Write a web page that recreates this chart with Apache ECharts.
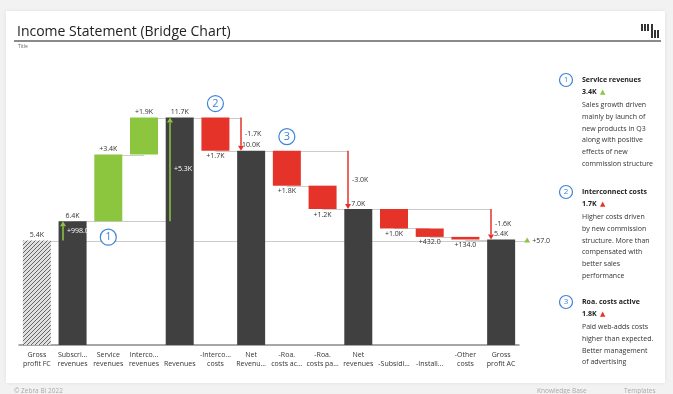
<!DOCTYPE html>
<html>
<head>
<meta charset="utf-8">
<script src="https://cdn.jsdelivr.net/npm/echarts@6/dist/echarts.min.js"></script>
<style>
  html, body { margin: 0; padding: 0; background: #f2f2f2; }
  #chart { width: 673px; height: 394px; }
</style>
</head>
<body>
<div id="chart"></div>
<script>
// ---- Income statement bridge data ----
const categories = [
  'Gross\nprofit FC', 'Subscri…\nrevenues', 'Service\nrevenues', 'Interco…\nrevenues',
  'Revenues', '-Interco…\ncosts', 'Net\nRevenu…', '-Roa.\ncosts ac…', '-Roa.\ncosts pa…',
  'Net\nrevenues', '-Subsidi…', '-Install…', '-Other\ncosts', 'Gross\nprofit AC'
];
// plan = forecast reference, total = subtotal column, add = increase, sub = cost
const kinds = ['plan', 'total', 'add', 'add', 'total', 'sub', 'total', 'sub', 'sub', 'total', 'sub', 'sub', 'sub', 'total'];
const amounts = [5362, 6360, 3425, 1900, 11685, 1700, 9985, 1800, 1200, 6985, 1000, 432, 134, 5419];

// numbered call-outs on the bridge
const noteCategories = [2, 5, 7];
const noteLabels = ['1', '2', '3'];

// commentary panel
const commentTitles = ['Service revenues', 'Interconnect costs', 'Roa. costs active'];
const commentValues = ['3.4K', '1.7K', '1.8K'];
const commentGood = [true, false, false];
const commentLines = [
  ['Sales growth driven', 'mainly by launch of', 'new products in Q3', 'along with positive', 'effects of new', 'commission structure'],
  ['Higher costs driven', 'by new commission', 'structure. More than', 'compensated with', 'better sales', 'performance'],
  ['Paid web-adds costs', 'higher than expected.', 'Better management', 'of advertising']
];

// ---- styling ----
const FONT = '"Open Sans", "Noto Sans", sans-serif';
const GREEN = '#8cc63f';
const RED = '#e5332a';
const DARK = '#404040';
const LINE = '#cccccc';
const NOTE = '#3f83d8';

function fmt(v) {
  const a = Math.abs(v);
  return a >= 1000 ? (a / 1000).toFixed(1) + 'K' : a.toFixed(1);
}
function signed(v) { return (v >= 0 ? '+' : '-') + fmt(v); }

// hatch fill for the forecast column
const hatch = document.createElement('canvas');
hatch.width = 4; hatch.height = 4;
(function () {
  const c = hatch.getContext('2d');
  c.fillStyle = '#e0e0e0'; c.fillRect(0, 0, 4, 4);
  c.strokeStyle = '#666'; c.lineWidth = 1;
  c.beginPath();
  c.moveTo(0, 4); c.lineTo(4, 0);
  c.moveTo(-1, 1); c.lineTo(1, -1);
  c.moveTo(3, 5); c.lineTo(5, 3);
  c.stroke();
})();

// ---- waterfall geometry in value space ----
const n = categories.length;
const baseVals = [], sizeVals = [], startLv = [], endLv = [];
let level = 0;
for (let i = 0; i < n; i++) {
  const k = kinds[i], v = amounts[i];
  startLv[i] = level;
  if (k === 'plan' || k === 'total') { baseVals[i] = 0; sizeVals[i] = v; level = v; }
  else if (k === 'add') { baseVals[i] = level; sizeVals[i] = v; level += v; }
  else { baseVals[i] = level - v; sizeVals[i] = v; level -= v; }
  endLv[i] = level;
}

const barData = sizeVals.map((v, i) => {
  const k = kinds[i];
  let color = DARK;
  if (k === 'plan') color = { image: hatch, repeat: 'repeat' };
  else if (k === 'add') color = GREEN;
  else if (k === 'sub') color = RED;
  return {
    value: v,
    itemStyle: { color },
    label: {
      position: k === 'sub' ? 'bottom' : 'top',
      formatter: (k === 'add' || k === 'sub') ? '+' + fmt(v) : fmt(v)
    }
  };
});

// connector lines: [fromCat, fromPx, toCat, toPx, level]
const connectors = [];
for (let i = 0; i < n - 1; i++) connectors.push([i, 0, i + 1, 0, endLv[i]]);
// reference arrows from previous subtotal to each subtotal
const arrows = [];
let prev = 0;
for (let i = 1; i < n; i++) {
  if (kinds[i] === 'total') {
    arrows.push([i, amounts[prev], amounts[i]]);
    connectors.push([prev, 0, i, -10, amounts[prev]]);
    prev = i;
  }
}
// forecast level carried across to the actual column
connectors.push([0, -14, n - 1, 24, amounts[0]]);
const planDelta = amounts[n - 1] - amounts[0];

const notes = noteCategories.map((c, j) => [c, startLv[c], kinds[c] === 'add' ? 1 : -1, j]);

// ---- commentary panel graphics ----
const panel = [];
const panelTops = [80, 192, 302];
commentTitles.forEach((t, j) => {
  const y = panelTops[j];
  panel.push({ type: 'circle', shape: { cx: 566, cy: y, r: 6.5 }, style: { fill: '#fff', stroke: NOTE, lineWidth: 1.2 }, z: 10 });
  panel.push({ type: 'text', x: 566, y: y, style: { text: noteLabels[j], fill: NOTE, font: '8px ' + FONT, align: 'center', verticalAlign: 'middle' }, z: 10 });
  panel.push({ type: 'text', x: 582, y: y, style: { text: t, fill: '#222', font: 'bold 7px ' + FONT, verticalAlign: 'middle' }, z: 10 });
  panel.push({
    type: 'text', x: 582, y: y + 12, z: 10,
    style: {
      text: '{v|' + commentValues[j] + '} {t|▲}', verticalAlign: 'middle',
      rich: {
        v: { fill: '#222', font: 'bold 7px ' + FONT },
        t: { fill: commentGood[j] ? GREEN : RED, font: '7px "DejaVu Sans"' }
      }
    }
  });
  commentLines[j].forEach((line, m) => {
    panel.push({ type: 'text', x: 582, y: y + 25 + m * 11.8, style: { text: line, fill: '#333', font: '7px ' + FONT, verticalAlign: 'middle' }, z: 10 });
  });
});

const logo = [
  [641, 24, 2, 7], [644, 24, 2, 7], [647, 24, 2, 7],
  [651, 24, 2, 14], [654, 30, 2, 8], [657, 30, 2, 8]
].map(r => ({ type: 'rect', shape: { x: r[0], y: r[1], width: r[2], height: r[3] }, style: { fill: '#333' }, z: 10 }));

const chart = echarts.init(document.getElementById('chart'));
chart.setOption({
  backgroundColor: '#f2f2f2',
  animation: false,
  textStyle: { fontFamily: FONT },
  graphic: [
    { type: 'rect', shape: { x: 6, y: 11, width: 659, height: 372 }, style: { fill: '#fff', shadowBlur: 4, shadowColor: 'rgba(0,0,0,0.08)' }, z: -10 },
    { type: 'text', x: 17, y: 32, style: { text: 'Income Statement (Bridge Chart)', fill: '#222', font: '14px ' + FONT, verticalAlign: 'middle' }, z: 10 },
    { type: 'rect', shape: { x: 14, y: 40, width: 647, height: 2 }, style: { fill: '#8a8a8a' }, z: 10 },
    { type: 'text', x: 18, y: 47, style: { text: 'Title', fill: '#666', font: '5px ' + FONT, verticalAlign: 'middle' }, z: 10 },
    { type: 'text', x: 14, y: 391, style: { text: '© Zebra BI 2022', fill: '#aaa', font: '6.5px ' + FONT, verticalAlign: 'middle' }, z: 10 },
    { type: 'text', x: 537, y: 391, style: { text: 'Knowledge Base', fill: '#aaa', font: '6.5px ' + FONT, verticalAlign: 'middle' }, z: 10 },
    { type: 'text', x: 624, y: 391, style: { text: 'Templates', fill: '#aaa', font: '6.5px ' + FONT, verticalAlign: 'middle' }, z: 10 }
  ].concat(logo, panel),
  grid: { left: 19, width: 500, top: 53, height: 292 },
  xAxis: {
    type: 'category',
    data: categories,
    axisLine: { lineStyle: { color: '#8a8a8a', width: 1.5 } },
    axisTick: { show: false },
    axisLabel: {
      interval: 0, fontSize: 7, lineHeight: 9, color: '#333', margin: 5,
      // single-line names sit on the lower line
      formatter: v => (v.indexOf('\n') < 0 ? '\u00a0\n' + v : v)
    }
  },
  yAxis: { type: 'value', min: 0, max: 15000, show: false, splitLine: { show: false } },
  series: [
    {
      type: 'custom', name: 'connectors', z: 1, silent: true,
      data: connectors,
      renderItem(params, api) {
        const a = api.coord([api.value(0), api.value(4)]);
        const b = api.coord([api.value(2), api.value(4)]);
        const y = Math.round(a[1]) + 0.5;
        return { type: 'line', shape: { x1: a[0] + api.value(1), y1: y, x2: b[0] + api.value(3), y2: y }, style: { stroke: LINE, lineWidth: 1 } };
      }
    },
    {
      type: 'bar', name: 'base', stack: 'w', barWidth: 28, silent: true,
      itemStyle: { color: 'transparent' }, data: baseVals, z: 2
    },
    {
      type: 'bar', name: 'value', stack: 'w', barWidth: 28, silent: true, z: 2,
      label: { show: true, fontSize: 7, color: '#333', distance: 2, fontFamily: FONT },
      data: barData
    },
    {
      type: 'custom', name: 'arrows', z: 5, silent: true,
      data: arrows,
      renderItem(params, api) {
        const i = api.value(0), from = api.value(1), to = api.value(2);
        const a = api.coord([i, from]), b = api.coord([i, to]);
        const x = Math.round(a[0]) - 10;
        const up = to > from;
        const col = up ? GREEN : RED;
        const head = 5, hw = 3;
        const tip = b[1];
        const neck = up ? tip + head : tip - head;
        return {
          type: 'group', children: [
            { type: 'line', shape: { x1: x, y1: a[1], x2: x, y2: neck }, style: { stroke: col, lineWidth: 1.5 } },
            { type: 'polygon', shape: { points: [[x, tip], [x - hw, neck], [x + hw, neck]] }, style: { fill: col } },
            { type: 'text', x: x + 4, y: (a[1] + b[1]) / 2, style: { text: signed(to - from), fill: up ? '#fff' : '#333', font: '7px ' + FONT, verticalAlign: 'middle' } }
          ]
        };
      }
    },
    {
      type: 'custom', name: 'plan variance', z: 5, silent: true,
      data: [[n - 1, amounts[0], planDelta]],
      renderItem(params, api) {
        const p = api.coord([api.value(0), api.value(1)]);
        const d = api.value(2);
        const x = p[0] + 26, y = p[1];
        const col = d >= 0 ? GREEN : RED;
        const tri = d >= 0 ? [[x, y - 3], [x - 3, y + 2], [x + 3, y + 2]] : [[x, y + 3], [x - 3, y - 2], [x + 3, y - 2]];
        return {
          type: 'group', children: [
            { type: 'polygon', shape: { points: tri }, style: { fill: col } },
            { type: 'text', x: x + 5, y: y, style: { text: signed(d), fill: '#333', font: '7px ' + FONT, verticalAlign: 'middle' } }
          ]
        };
      }
    },
    {
      type: 'custom', name: 'notes', z: 6, silent: true,
      data: notes,
      renderItem(params, api) {
        const p = api.coord([api.value(0), api.value(1)]);
        const dir = api.value(2);
        const cy = p[1] + (dir > 0 ? 16 : -14);
        return {
          type: 'group', children: [
            { type: 'circle', shape: { cx: p[0], cy: cy, r: 8 }, style: { fill: '#fff', stroke: NOTE, lineWidth: 1.2 } },
            { type: 'text', x: p[0], y: cy, style: { text: noteLabels[api.value(3)], fill: NOTE, font: '11px ' + FONT, align: 'center', verticalAlign: 'middle' } }
          ]
        };
      }
    }
  ]
});
</script>
</body>
</html>
